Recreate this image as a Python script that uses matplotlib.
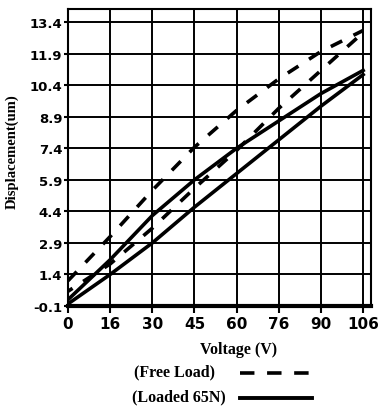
import matplotlib
matplotlib.use("Agg")
import matplotlib.pyplot as plt
from matplotlib.lines import Line2D

# ---- data ----
voltage = [0, 15, 30, 45, 60, 75, 90, 105]
free_down = [1.1, 3.2, 5.4, 7.45, 9.2, 10.7, 12.0, 13.0]
free_up = [0.6, 1.9, 3.6, 5.5, 7.3, 9.3, 11.1, 12.9]
loaded_down = [0.2, 2.1, 4.2, 5.9, 7.4, 8.7, 10.0, 11.1]
loaded_up = [0.0, 1.4, 2.9, 4.6, 6.2, 7.8, 9.4, 10.9]

x_ticks = [0, 15, 30, 45, 60, 75, 90, 105]
x_tick_labels = ["0", "16", "30", "45", "60", "76", "90", "106"]
y_ticks = [-0.1, 1.4, 2.9, 4.4, 5.9, 7.4, 8.9, 10.4, 11.9, 13.4]
y_tick_labels = ["-0.1", "1.4", "2.9", "4.4", "5.9", "7.4", "8.9", "10.4", "11.9", "13.4"]

W, H = 382, 410
fig = plt.figure(figsize=(W / 100, H / 100), dpi=100)
ax = fig.add_axes([68 / W, 1 - 307 / H, (371 - 68) / W, (307 - 10) / H])

ax.set_xlim(0, 107.8)
ax.set_ylim(-0.1, 14.02)

ax.plot(voltage, free_down, color="black", lw=2.6, linestyle=(0, (3.5, 3.5)), zorder=3)
ax.plot(voltage, free_up, color="black", lw=2.6, linestyle=(2, (3.5, 3.5)), zorder=3)
ax.plot(voltage, loaded_down, color="black", lw=2.6, zorder=3)
ax.plot(voltage, loaded_up, color="black", lw=2.6, zorder=3)

ax.set_xticks(x_ticks)
ax.set_xticklabels(x_tick_labels, fontsize=11, fontweight="bold", family="DejaVu Sans")
ax.set_yticks(y_ticks)
ax.set_yticklabels(y_tick_labels, fontsize=9.5, fontweight="bold", family="DejaVu Sans")
ax.tick_params(axis="x", length=5, width=1.5, direction="out", pad=2)
ax.tick_params(axis="y", length=3, width=1.5, direction="out", pad=1)
ax.grid(True, color="black", lw=1.4)
ax.set_axisbelow(True)
for s in ["left", "right", "top"]:
    ax.spines[s].set_linewidth(1.5)
ax.spines["bottom"].set_linewidth(3)

serif = "Liberation Serif"
fig.text(12 / W, 1 - 152 / H, "Displacement(um)", rotation=90, ha="center", va="center",
         fontsize=10.5, fontweight="bold", family=serif)
fig.text(239 / W, 1 - 350 / H, "Voltage (V)", ha="center", va="center",
         fontsize=11.5, fontweight="bold", family=serif)
fig.text(174 / W, 1 - 372 / H, "(Free Load)", ha="center", va="center",
         fontsize=11.5, fontweight="bold", family=serif)
fig.text(179 / W, 1 - 397 / H, "(Loaded 65N)", ha="center", va="center",
         fontsize=11.5, fontweight="bold", family=serif)
fig.add_artist(Line2D([240 / W, 313 / W], [1 - 374 / H, 1 - 374 / H], transform=fig.transFigure,
                      color="black", lw=2.6, linestyle=(0, (4, 3.5))))
fig.add_artist(Line2D([240 / W, 312 / W], [1 - 399 / H, 1 - 399 / H], transform=fig.transFigure,
                      color="black", lw=2.8))

fig.savefig("out.png", dpi=100)
